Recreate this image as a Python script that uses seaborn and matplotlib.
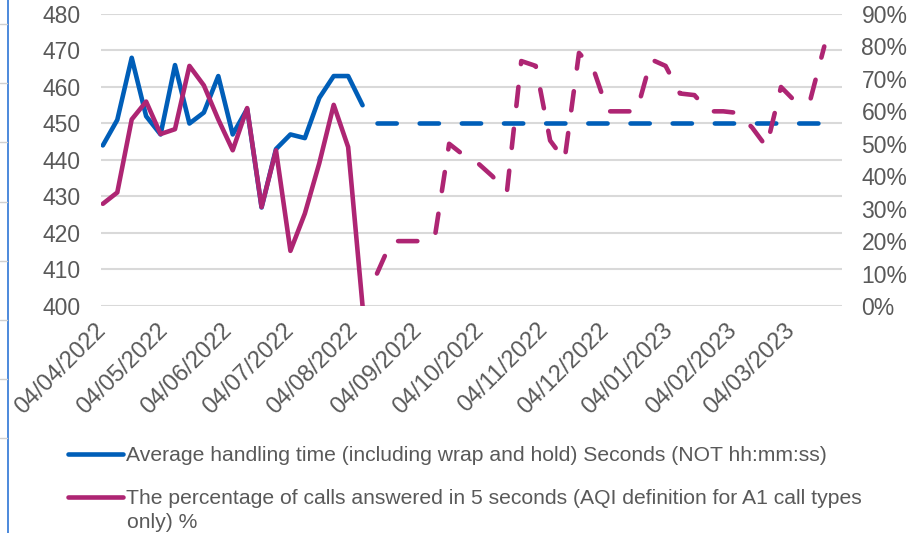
import matplotlib
matplotlib.use("Agg")
import matplotlib.pyplot as plt
import matplotlib.dates as mdates
from matplotlib.lines import Line2D
from matplotlib.ticker import PercentFormatter
import numpy as np
import pandas as pd
import seaborn as sns

# weekly points, first week 04/04/2022
week_start = "2022-04-04"
n_weeks = 52

# Average handling time (seconds) - actuals then target
aht_actual = [444, 451, 468, 452, 447, 466, 450, 453, 463, 447, 454, 427, 443, 447, 446, 457, 463, 463, 455]
aht_target = [450, 450, 450, 450, 450, 450, 450, 450, 450, 450, 450, 450, 450, 450, 450, 450, 450,
              450, 450, 450, 450, 450, 450, 450, 450, 450, 450, 450, 450, 450, 450, 450, 450]

# % of calls answered in 5 seconds - actuals then projection
pct_actual = [31.5, 35, 57.5, 63, 53, 54.5, 74, 68, 57.5, 48, 61, 30.5, 48, 17, 28.5, 44, 62, 49, 0]
pct_forecast = [10, 20, 20, 20, 21, 50, 46.5, 44, 40, 35, 75.5, 74, 51, 45, 78, 73, 60, 60, 60,
                76, 74, 65.5, 65, 60, 60, 59.5, 55, 49, 67.5, 63, 63, 80]

tick_dates = ["2022-04-04", "2022-05-04", "2022-06-04", "2022-07-04", "2022-08-04", "2022-09-04",
              "2022-10-04", "2022-11-04", "2022-12-04", "2023-01-04", "2023-02-04", "2023-03-04"]
left_ticks = [400, 410, 420, 430, 440, 450, 460, 470, 480]
right_ticks = [0, 0.1, 0.2, 0.3, 0.4, 0.5, 0.6, 0.7, 0.8, 0.9]

legend_labels = ["Average handling time (including wrap and hold) Seconds (NOT hh:mm:ss)",
                 "The percentage of calls answered in 5 seconds (AQI definition for A1 call types"]
legend_label_cont = "only) %"

BLUE = "#005EB8"
PINK = "#AE2573"
GREY_TXT = "#595959"

sns.set_theme(style="white")
plt.rcParams["font.family"] = ["Liberation Sans", "DejaVu Sans"]

weeks = pd.date_range(week_start, periods=n_weeks, freq="7D")
n_act = len(aht_actual)
dfAht = pd.DataFrame({"date": weeks[:n_act], "value": aht_actual})
dfAhtTarget = pd.DataFrame({"date": weeks[n_act:n_act + len(aht_target)], "value": aht_target})
dfPct = pd.DataFrame({"date": weeks[:len(pct_actual)], "value": np.array(pct_actual) / 100})
dfPctFc = pd.DataFrame({"date": weeks[len(pct_actual):len(pct_actual) + len(pct_forecast)],
                        "value": np.array(pct_forecast) / 100})

fig = plt.figure(figsize=(9.1, 5.33), dpi=100)
ax = fig.add_axes([101 / 910, 1 - 306 / 533, 741 / 910, 292 / 533])
ax2 = ax.twinx()

lw = 3.3
dash = (0, (4.2, 5.0))
common = dict(linewidth=lw, solid_capstyle="round", solid_joinstyle="round",
              dash_capstyle="round", dash_joinstyle="round", legend=False)

sns.lineplot(data=dfAht, x="date", y="value", ax=ax, color=BLUE, **common)
sns.lineplot(data=dfAhtTarget, x="date", y="value", ax=ax, color=BLUE, linestyle=dash, **common)
sns.lineplot(data=dfPct, x="date", y="value", ax=ax2, color=PINK, **common)
sns.lineplot(data=dfPctFc, x="date", y="value", ax=ax2, color=PINK, linestyle=dash, **common)

# axes ranges
day = pd.Timedelta(days=1)
ax.set_xlim(weeks[0] - 0.9 * day, weeks[-1] + 1.6 * day)
ax.set_ylim(400, 480)
ax2.set_ylim(0, 0.9)
ax.set_yticks(left_ticks)
ax2.set_yticks(right_ticks)
ax2.yaxis.set_major_formatter(PercentFormatter(1.0, decimals=0))

ax.set_xticks(pd.to_datetime(tick_dates))
ax.xaxis.set_major_formatter(mdates.DateFormatter("%d/%m/%Y"))

for a in (ax, ax2):
    a.set_xlabel("")
    a.set_ylabel("")
    for s in a.spines.values():
        s.set_visible(False)

ax.grid(axis="y", color="#D9D9D9", linewidth=1.5)
ax.grid(axis="x", visible=False)
ax2.grid(False)

ax.tick_params(axis="y", length=0, pad=15, labelsize=16.5, labelcolor=GREY_TXT)
ax2.tick_params(axis="y", length=0, pad=14, labelsize=16.5, labelcolor=GREY_TXT)
ax.tick_params(axis="x", length=0, pad=15, labelsize=17, labelcolor=GREY_TXT)
for lab in ax.get_xticklabels():
    lab.set_rotation(45)
    lab.set_ha("right")
    lab.set_va("center")
    lab.set_rotation_mode("anchor")

# legend below the plot
handles = [Line2D([], [], color=BLUE, linewidth=lw, solid_capstyle="round"),
           Line2D([], [], color=PINK, linewidth=lw, solid_capstyle="round")]
leg = fig.legend(handles, legend_labels, loc="upper left", bbox_to_anchor=(68 / 910, 1 - 446 / 533),
                 frameon=False, fontsize=15.2, handlelength=2.6, handletextpad=0.15,
                 labelspacing=1.15, borderpad=0, borderaxespad=0, labelcolor=GREY_TXT)
fig.text(127 / 910, 1 - 522 / 533, legend_label_cont, fontsize=15.2, color=GREY_TXT, va="center")

# frame remnants on the left edge of the screenshot
fig.add_artist(Line2D([7.5 / 910, 7.5 / 910], [0, 1], color="#2E75D6", linewidth=1.2))
for yy in [24, 83, 142, 202, 261, 320, 379, 438]:
    fig.add_artist(Line2D([0, 7 / 910], [1 - yy / 533, 1 - yy / 533], color="#D0D0D0", linewidth=1))

fig.savefig("out.png", dpi=100)
